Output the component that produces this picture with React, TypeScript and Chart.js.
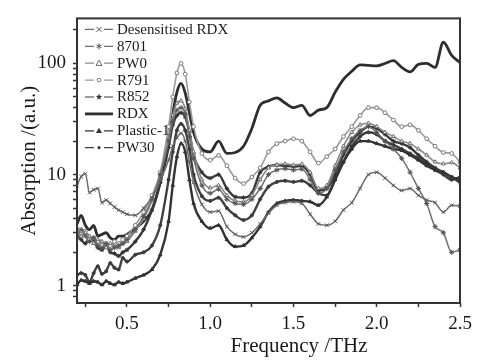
import React, { useEffect, useRef } from 'react';
import { Chart, registerables } from 'chart.js';

Chart.register(...registerables);

// Frequency grid (THz)
const freq = [
  0.2, 0.225, 0.25, 0.275, 0.3, 0.325, 0.35, 0.375, 0.4, 0.425, 0.45, 0.475, 0.5,
  0.55, 0.6, 0.65, 0.7, 0.75,
  0.775, 0.8, 0.825, 0.85, 0.875, 0.9,
  0.95, 1.0, 1.05, 1.1, 1.15, 1.2, 1.25, 1.3, 1.35, 1.4, 1.45, 1.5, 1.55, 1.6, 1.65, 1.7,
  1.75, 1.8, 1.85, 1.9, 1.95, 2.0, 2.05, 2.1, 2.15, 2.2, 2.25, 2.3, 2.35, 2.4, 2.45, 2.5,
];

const desensitisedRDX = [
  8.0, 9.6, 10.2, 6.9, 7.3, 7.5, 5.6, 5.9, 5.5, 5.1, 4.8, 4.6, 4.4,
  4.3, 5.0, 6.2, 8.8, 13.5,
  18, 21.5, 23.5, 20, 13, 8.5,
  5.4, 4.6, 4.7, 3.4, 2.9, 2.75, 3.0, 3.6, 4.5, 5.3, 5.6, 5.7, 5.5, 4.4, 3.6, 3.5,
  3.8, 4.8, 5.6, 7.5, 10, 10.5, 9.3, 8.0, 7.2, 7.5, 6.5, 5.9, 5.6, 4.6, 5.3, 5.2,
];

const s8701 = [
  2.7, 3.2, 2.8, 2.5, 2.7, 2.3, 2.2, 2.4, 2.1, 2.2, 2.3, 2.4, 2.6,
  3.2, 4.2, 6.0, 10, 20,
  30, 38, 40, 35, 22, 14,
  8, 6.8, 7.4, 6.0, 5.5, 5.4, 6.0, 7.5, 10, 11, 11.3, 11, 11.2, 9, 6.8, 7.5,
  11, 16, 21, 25, 27, 24, 20, 17, 14, 10.5, 7.5, 5.5, 3.4, 3.0, 2.0, 2.1,
];

const pw0 = [
  3.3, 2.8, 3.0, 2.8, 2.4, 2.6, 2.5, 2.2, 2.4, 2.3, 2.2, 2.4, 2.5,
  3.1, 4.0, 5.8, 10, 21,
  34, 44, 46, 39, 25, 16,
  9, 7.6, 8.0, 6.5, 5.8, 5.7, 6.5, 9.0, 11.5, 12.2, 12.5, 12.2, 12.4, 10.5, 7.5, 8.0,
  12, 18, 24, 28, 29, 27, 24, 22, 20, 19, 17, 15, 13, 12.5, 12.8, 11.5,
];

const r791 = [
  3.0, 2.9, 3.1, 2.6, 2.7, 2.5, 2.3, 2.4, 2.3, 2.5, 2.4, 2.6, 2.8,
  3.5, 4.6, 6.5, 10.5, 27,
  50, 82, 100, 80, 45, 27,
  15.5, 13.5, 14.9, 12, 9.3, 8.3, 9.5, 11.5, 16, 19, 20, 21, 20, 16, 12.7, 14.5,
  17, 22, 27, 34, 40, 40, 36, 31, 27, 28, 25, 21, 18, 15.8, 15.5, 12.9,
];

const r852 = [
  2.9, 2.6, 2.4, 2.7, 2.5, 2.2, 2.1, 2.3, 2.0, 1.95, 1.85, 2.0, 2.1,
  2.5, 3.2, 4.8, 8.5, 17.5,
  28, 34, 36, 33, 24, 15,
  10.5, 9.3, 10, 7.5, 6.3, 6.2, 6.8, 10.5, 11.8, 12.2, 12, 11.8, 12, 10, 7.2, 7.5,
  10, 15, 20, 24, 27, 26, 23, 20, 19, 17.5, 15, 13, 11.5, 10.5, 9.5, 8.5,
];

const rdx = [
  3.6, 4.3, 3.5, 3.2, 3.5, 2.8, 2.9, 3.0, 2.7, 2.6, 2.8, 2.8, 2.9,
  3.3, 3.8, 4.8, 8.5, 19,
  35, 55, 66, 54, 36, 24,
  17, 16, 20, 15.5, 15.8, 18, 26, 42, 46, 49, 44, 40, 42, 34, 38, 40,
  55, 72, 85, 97, 96, 95, 100, 106, 92, 84, 98, 100, 92, 155, 118, 102,
];

const plastic1 = [
  1.02, 1.12, 1.1, 1.05, 1.1, 1.08, 1.02, 1.1, 1.05, 1.02, 1.08, 1.05, 1.08,
  1.17, 1.25, 1.4, 1.9, 3.8,
  8, 14.5, 19, 16, 9, 5.5,
  3.8, 3.3, 3.5, 2.6, 2.25, 2.3, 2.7, 3.4, 4.6, 5.5, 5.8, 5.9, 5.8, 5.7, 5.3, 6.3,
  9, 13, 17, 20, 20, 19, 18, 17, 16.5, 15, 13.5, 12, 11, 10.5, 9.5, 9,
];

const pw30 = [
  1.25, 1.3, 1.25, 1.08, 1.3, 1.5, 1.28, 1.35, 1.6, 1.45, 1.4, 1.78, 1.65,
  1.9, 2.0, 2.3, 3.5, 9,
  16, 25, 28.6, 25, 17, 10,
  6.4, 5.8, 6.2, 5.0, 4.3, 3.9, 4.3, 6.0, 7.8, 8.6, 8.8, 8.6, 8.8, 8.0, 6.8, 6.5,
  9, 13, 18, 22, 24, 23, 20, 18.5, 17, 15.5, 14, 12.5, 11, 10, 9, 9.5,
];

const seriesNames = ['Desensitised RDX', '8701', 'PW0', 'R791', 'R852', 'RDX', 'Plastic-1', 'PW30'];
const seriesValues = [desensitisedRDX, s8701, pw0, r791, r852, rdx, plastic1, pw30];

const xMajorTicks = [0.5, 1.0, 1.5, 2.0, 2.5];
const xMinorTicks = [0.25, 0.75, 1.25, 1.75, 2.25];
const yLabeledTicks = [1, 10, 100];
const yMinorTicks = [0.8, 0.9, 2, 3, 4, 5, 6, 7, 8, 9, 20, 30, 40, 50, 60, 70, 80, 90, 200];

const xTitle = 'Frequency /THz';
const yTitle = 'Absorption /(a.u.)';

// styles (kept separate from data)
const styles = [
  { color: '#6c6c6c', pointColor: '#555', width: 1.5, pointStyle: 'crossRot', radius: 2.6, fill: '#555', legend: 'cross', dash: true },
  { color: '#707070', pointColor: '#555', width: 1.5, pointStyle: 'star', radius: 2.6, fill: '#555', legend: 'asterisk', dash: true },
  { color: '#8a8a8a', pointColor: '#6a6a6a', width: 1.6, pointStyle: 'triangle', radius: 2.2, fill: '#ffffff', legend: 'triangleOpen', dash: true },
  { color: '#9a9a9a', pointColor: '#777', width: 1.6, pointStyle: 'circle', radius: 1.9, fill: '#ffffff', legend: 'circleOpen', dash: true },
  { color: '#3a3a3a', pointColor: '#333', width: 2.4, pointStyle: 'star', radius: 2.2, fill: '#333', legend: 'starFilled', dash: true },
  { color: '#2e2e2e', pointColor: '#2e2e2e', width: 2.8, pointStyle: 'circle', radius: 0, fill: '#2e2e2e', legend: 'none', dash: false },
  { color: '#333333', pointColor: '#333', width: 2.4, pointStyle: 'triangle', radius: 2.0, fill: '#333', legend: 'triangleFilled', dash: true },
  { color: '#404040', pointColor: '#3a3a3a', width: 2.4, pointStyle: 'circle', radius: 1.5, fill: '#3a3a3a', legend: 'dot', dash: true },
];

const SERIF = '"Liberation Serif", "Times New Roman", serif';

function drawLegendMarker(ctx: CanvasRenderingContext2D, kind: string, x: number, y: number, color: string) {
  ctx.save();
  ctx.strokeStyle = color;
  ctx.fillStyle = color;
  ctx.lineWidth = 1;
  ctx.beginPath();
  switch (kind) {
    case 'cross':
      ctx.moveTo(x - 2.5, y - 2.5); ctx.lineTo(x + 2.5, y + 2.5);
      ctx.moveTo(x + 2.5, y - 2.5); ctx.lineTo(x - 2.5, y + 2.5);
      ctx.stroke();
      break;
    case 'asterisk':
      for (let k = 0; k < 3; k++) {
        const ang = Math.PI / 2 + (k * Math.PI) / 3;
        ctx.moveTo(x + 3 * Math.cos(ang), y - 3 * Math.sin(ang));
        ctx.lineTo(x - 3 * Math.cos(ang), y + 3 * Math.sin(ang));
      }
      ctx.stroke();
      break;
    case 'triangleOpen':
      ctx.moveTo(x, y - 3); ctx.lineTo(x + 3, y + 2.2); ctx.lineTo(x - 3, y + 2.2); ctx.closePath();
      ctx.stroke();
      break;
    case 'circleOpen':
      ctx.arc(x, y, 1.8, 0, Math.PI * 2);
      ctx.stroke();
      break;
    case 'starFilled':
      for (let k = 0; k < 10; k++) {
        const r = k % 2 === 0 ? 3.4 : 1.4;
        const ang = -Math.PI / 2 + (k * Math.PI) / 5;
        const px = x + r * Math.cos(ang);
        const py = y + r * Math.sin(ang);
        if (k === 0) ctx.moveTo(px, py); else ctx.lineTo(px, py);
      }
      ctx.closePath();
      ctx.fill();
      break;
    case 'triangleFilled':
      ctx.moveTo(x, y - 3); ctx.lineTo(x + 3, y + 2.2); ctx.lineTo(x - 3, y + 2.2); ctx.closePath();
      ctx.fill();
      break;
    case 'dot':
      ctx.arc(x, y, 1.6, 0, Math.PI * 2);
      ctx.fill();
      break;
    default:
      break;
  }
  ctx.restore();
}

const decorPlugin = {
  id: 'decor',
  afterDraw(chart: any) {
    const { ctx, chartArea: a } = chart;
    ctx.save();
    // frame
    ctx.strokeStyle = '#333';
    ctx.lineWidth = 2;
    ctx.strokeRect(a.left, a.top, a.right - a.left, a.bottom - a.top);

    // legend inside the plot, top-left
    const x0 = a.left + 8;
    const x1 = a.left + 36;
    const xm = (x0 + x1) / 2;
    const rowTop = a.top + 11;
    const step = 16.9;
    ctx.font = `15px ${SERIF}`;
    ctx.textBaseline = 'middle';
    ctx.textAlign = 'left';
    seriesNames.forEach((name, i) => {
      const st = styles[i];
      const y = rowTop + i * step;
      ctx.strokeStyle = st.color;
      if (st.dash) {
        ctx.lineWidth = 1.2;
        ctx.beginPath();
        ctx.moveTo(x0, y); ctx.lineTo(xm - 5, y);
        ctx.moveTo(xm + 5, y); ctx.lineTo(x1, y);
        ctx.stroke();
        drawLegendMarker(ctx, st.legend, xm, y, st.pointColor);
      } else {
        ctx.lineWidth = 2.8;
        ctx.beginPath();
        ctx.moveTo(x0, y); ctx.lineTo(x1, y);
        ctx.stroke();
      }
      ctx.fillStyle = '#1a1a1a';
      ctx.fillText(name, x1 + 4, y + 0.5);
    });

    // axis titles
    ctx.fillStyle = '#1a1a1a';
    ctx.font = `21px ${SERIF}`;
    ctx.textAlign = 'center';
    ctx.textBaseline = 'middle';
    ctx.fillText(xTitle, a.left + 222, 346);
    ctx.translate(29, (a.top + a.bottom) / 2);
    ctx.rotate(-Math.PI / 2);
    ctx.fillText(yTitle, 0, 0);
    ctx.restore();
  },
};

export default function App() {
  const canvasRef = useRef<HTMLCanvasElement | null>(null);

  useEffect(() => {
    const canvas = canvasRef.current;
    if (!canvas) return;

    const datasets = seriesValues.map((vals, i) => {
      const st = styles[i];
      return {
        label: seriesNames[i],
        data: freq.map((f, j) => ({ x: f, y: vals[j] })),
        borderColor: st.color,
        borderWidth: st.width,
        backgroundColor: st.fill,
        pointStyle: st.pointStyle as any,
        pointRadius: st.radius,
        pointBorderColor: st.pointColor,
        pointBackgroundColor: st.fill,
        pointBorderWidth: 1,
        cubicInterpolationMode: 'monotone' as const,
        fill: false,
      };
    });

    const chart = new Chart(canvas, {
      type: 'line',
      data: { datasets },
      options: {
        animation: false,
        responsive: true,
        maintainAspectRatio: false,
        events: [],
        layout: { padding: { left: 0, top: 8, right: 25, bottom: 0 } },
        plugins: {
          legend: { display: false },
          tooltip: { enabled: false },
          title: { display: false },
        },
        scales: {
          x: {
            type: 'linear',
            min: 0.2,
            max: 2.5,
            afterBuildTicks: (scale: any) => {
              scale.ticks = [...xMinorTicks, ...xMajorTicks]
                .sort((p, q) => p - q)
                .map((v) => ({ value: v }));
            },
            afterFit: (scale: any) => {
              scale.height = 58;
            },
            ticks: {
              autoSkip: false,
              maxRotation: 0,
              padding: 6,
              color: '#1a1a1a',
              font: { family: SERIF, size: 19 },
              callback: (value: any) => (xMajorTicks.includes(Number(value)) ? Number(value).toFixed(1) : ''),
            },
            grid: {
              display: true,
              drawOnChartArea: false,
              drawTicks: true,
              tickLength: 4,
              tickColor: '#333',
              tickWidth: 1.5,
            },
            border: { display: false },
          },
          y: {
            type: 'logarithmic',
            min: 0.71,
            max: 254,
            afterBuildTicks: (scale: any) => {
              scale.ticks = [...yMinorTicks, ...yLabeledTicks]
                .sort((p, q) => p - q)
                .map((v) => ({ value: v }));
            },
            afterFit: (scale: any) => {
              scale.width = 77;
            },
            ticks: {
              autoSkip: false,
              padding: 7,
              color: '#1a1a1a',
              font: { family: SERIF, size: 19 },
              callback: (value: any) => (yLabeledTicks.includes(Number(value)) ? String(value) : ''),
            },
            grid: {
              display: true,
              drawOnChartArea: false,
              drawTicks: true,
              tickLength: 4,
              tickColor: '#333',
              tickWidth: 1.5,
            },
            border: { display: false },
          },
        },
      },
      plugins: [decorPlugin],
    });

    return () => {
      chart.destroy();
    };
  }, []);

  return (
    <div style={{ position: 'absolute', left: 0, top: 0, width: 485, height: 361, background: '#fff' }}>
      <canvas ref={canvasRef} />
    </div>
  );
}
